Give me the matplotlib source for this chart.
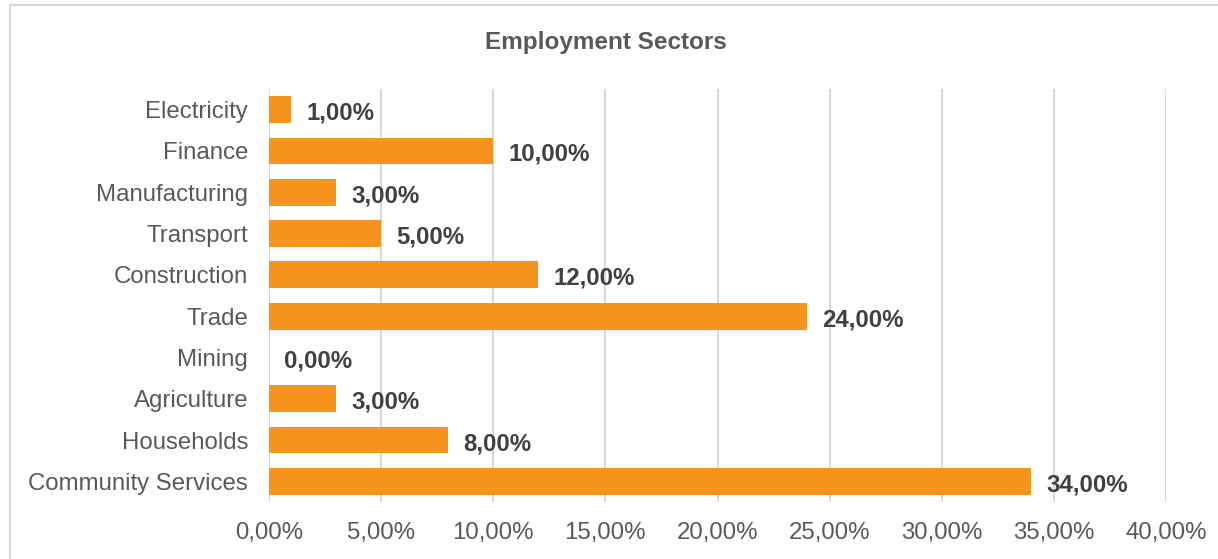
import matplotlib.pyplot as plt
from matplotlib.patches import Rectangle
from matplotlib.ticker import FuncFormatter

# Data (top to bottom as in the chart)
sectors = ['Electricity', 'Finance', 'Manufacturing', 'Transport', 'Construction',
           'Trade', 'Mining', 'Agriculture', 'Households', 'Community Services']
shares = [1, 10, 3, 5, 12, 24, 0, 3, 8, 34]
x_ticks = [0, 5, 10, 15, 20, 25, 30, 35, 40]

plt.rcParams['font.family'] = ['Liberation Sans', 'DejaVu Sans']

bar_color = '#F7941D'
label_color = '#595959'
value_color = '#404040'
grid_color = '#D9D9D9'

fig = plt.figure(figsize=(12.18, 5.59), dpi=100)
ax = fig.add_axes([269 / 1218, 1 - 502 / 559, (1166 - 269) / 1218, (502 - 89) / 559])

# Chart border (left/top visible, right/bottom cut by the image edge)
fig.patches.append(Rectangle((10 / 1218, -0.1), 1.2, 1 - 5 / 559 + 0.1,
                             transform=fig.transFigure, fill=False,
                             edgecolor=grid_color, linewidth=1.5, zorder=0))

y = list(range(len(sectors)))[::-1]
ax.barh(y, shares, height=0.65, color=bar_color, zorder=3)

for yi, v in zip(y, shares):
    ax.annotate(f'{v:.2f}%'.replace('.', ','), xy=(v, yi), xytext=(11, -2.5),
                textcoords='offset points', ha='left', va='center',
                fontsize=17.3, fontweight='bold', color=value_color)

ax.set_xlim(0, 40)
ax.set_ylim(-0.5, len(sectors) - 0.5)
ax.set_xticks(x_ticks)
ax.xaxis.set_major_formatter(FuncFormatter(lambda v, p: f'{v:.2f}%'.replace('.', ',')))
ax.set_yticks(y)
ax.set_yticklabels(sectors)
ax.tick_params(axis='both', length=0, labelsize=17.3, labelcolor=label_color)
ax.tick_params(axis='y', pad=15)
ax.tick_params(axis='x', pad=14.5)
ax.grid(axis='x', color=grid_color, linewidth=1.5, zorder=0)
ax.set_axisbelow(True)
for s in ax.spines.values():
    s.set_visible(False)

fig.text((484 + 727) / 2 / 1218, 1 - 42 / 559, 'Employment Sectors', ha='center', va='center',
         fontsize=17.5, fontweight='bold', color=label_color)

fig.savefig('out.png', dpi=100)
